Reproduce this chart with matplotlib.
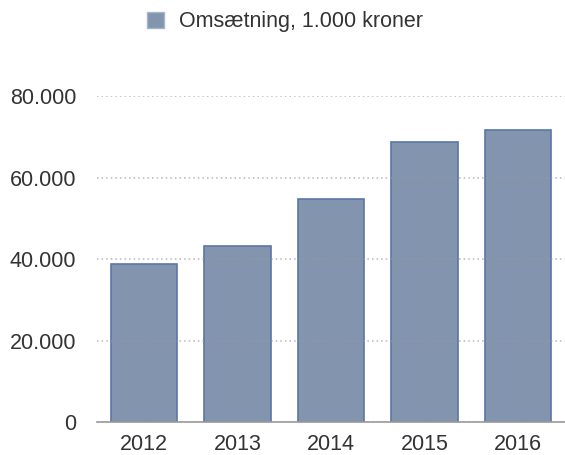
import matplotlib
matplotlib.use("Agg")
import matplotlib.pyplot as plt
from matplotlib.patches import Patch
from matplotlib.ticker import FuncFormatter

plt.rcParams['font.family'] = ['Liberation Sans', 'DejaVu Sans']

# data (omsætning, 1.000 kroner)
years = ['2012', '2013', '2014', '2015', '2016']
revenue = [38800, 43200, 54800, 68700, 71700]
y_ticks = [0, 20000, 40000, 60000, 80000]
legend_label = 'Omsætning, 1.000 kroner'

bar_color = '#8394ae'
edge_color = '#5b76a6'
text_color = '#333333'

fig = plt.figure(figsize=(5.65, 4.55), dpi=100)
ax = fig.add_axes([0.172, 0.0725, 0.828, 0.7155])

x = range(len(years))
ax.bar(x, revenue, width=0.71, color=bar_color, edgecolor=edge_color, linewidth=1.2, zorder=2)

ax.set_xlim(-0.5, len(years) - 0.5)
ax.set_ylim(0, 80000)
ax.set_xticks(list(x))
ax.set_xticklabels(years)
ax.set_yticks(y_ticks)
ax.yaxis.set_major_formatter(FuncFormatter(lambda v, p: f'{int(v):,}'.replace(',', '.')))

# dotted grid drawn over the bars, as in the original
ax.set_axisbelow(False)
ax.grid(axis='y', linestyle=(0, (1, 2)), color='#9a9a9a', alpha=0.7, linewidth=1.1, zorder=3)
for s in ['top', 'right', 'left']:
    ax.spines[s].set_visible(False)
ax.spines['bottom'].set_color('#999999')
ax.spines['bottom'].set_linewidth(1.2)
ax.spines['bottom'].set_zorder(4)

ax.tick_params(axis='y', length=0, pad=15, labelsize=15.5, labelcolor=text_color)
ax.tick_params(axis='x', length=0, pad=8.5, labelsize=15.5, labelcolor=text_color)

handle = Patch(facecolor=bar_color, edgecolor='#a8b6cc', linewidth=1.0)
fig.legend([handle], [legend_label], loc='center', bbox_to_anchor=(0.504, 0.952),
           frameon=False, fontsize=15.5, handlelength=0.8, handleheight=0.8,
           handletextpad=0.7, labelcolor=text_color)

fig.savefig('out.png', dpi=100)
